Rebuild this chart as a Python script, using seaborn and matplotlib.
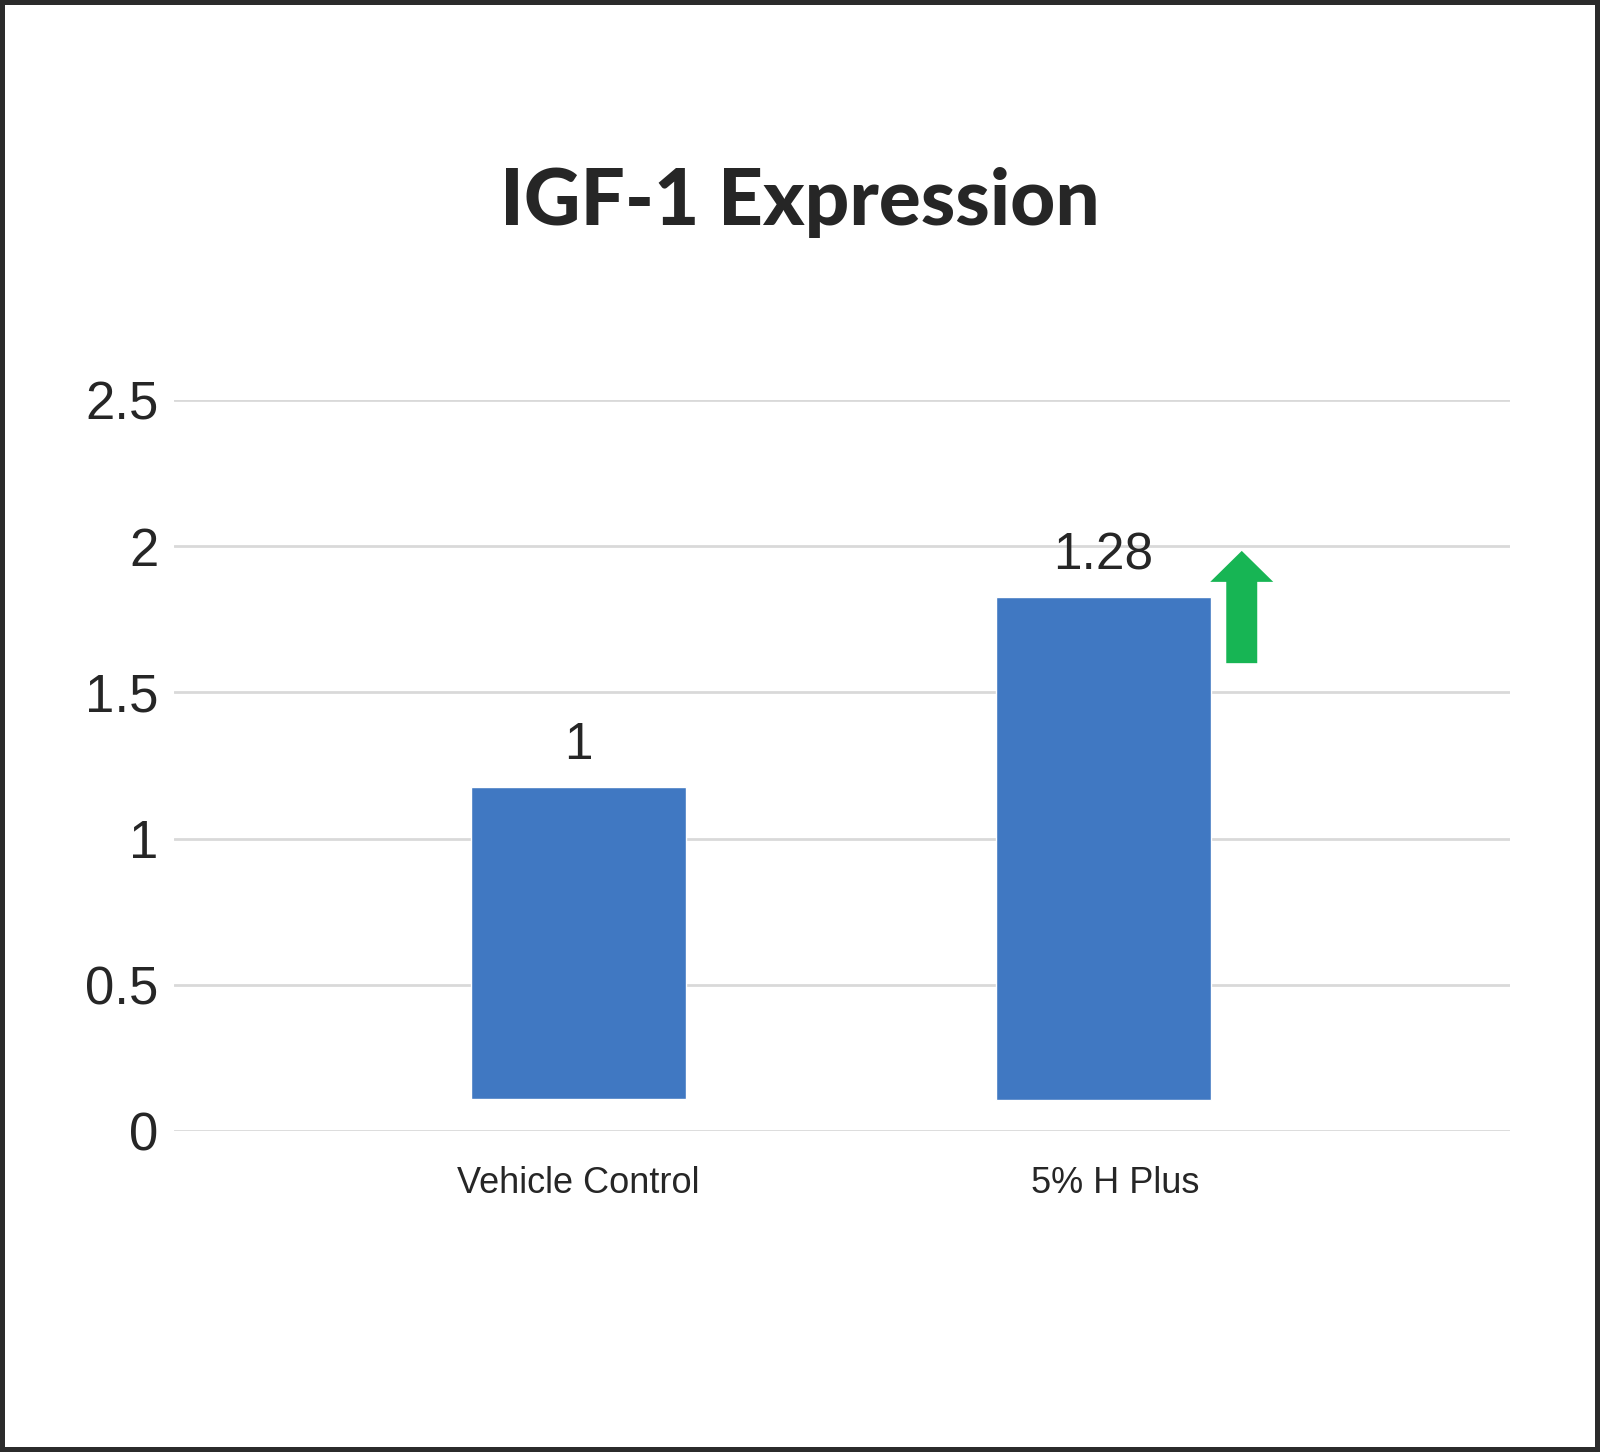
import matplotlib
matplotlib.use("Agg")
import matplotlib.pyplot as plt
import matplotlib.patches as mpatches
from matplotlib.transforms import ScaledTranslation
import seaborn as sns
import pandas as pd

# values
groups = ["Vehicle Control", "5% H Plus"]
expression = [1, 1.28]          # printed value labels
bar_bottom = [0.11, 0.105]      # bars float above zero in the original
bar_top = [1.176, 1.826]
y_ticks = [0, 0.5, 1, 1.5, 2, 2.5]

df = pd.DataFrame({
    "group": groups,
    "bottom": bar_bottom,
    "height": [t - b for t, b in zip(bar_top, bar_bottom)],
})

sns.set_style("white")
plt.rcParams["font.family"] = ["Liberation Sans", "DejaVu Sans"]

text_col = "#262626"
bar_col = "#4078c2"

fig = plt.figure(figsize=(16, 14.52), dpi=100,
                 linewidth=6, edgecolor="#2b2b2b")
ax = fig.add_axes([174 / 1600, 1 - 1131 / 1452, (1510 - 174) / 1600, (1131 - 400) / 1452])

sns.barplot(data=df, x="group", y="height", bottom=df["bottom"].tolist(),
            color=bar_col, saturation=1, width=0.41, ax=ax)

ax.set_ylim(0, 2.5)
ax.set_xlim(-0.77, 1.775)
ax.set_yticks(y_ticks)
ax.set_yticklabels([f"{v:g}" for v in y_ticks])
ax.yaxis.grid(True, color="#d9d9d9", linewidth=2)
ax.set_axisbelow(True)
for s in ax.spines.values():
    s.set_visible(False)
ax.tick_params(axis="y", length=0, pad=11, labelsize=38, labelcolor=text_col)
ax.tick_params(axis="x", length=0, pad=25, labelsize=26, labelcolor=text_col)
ax.set_xlabel("")
ax.set_ylabel("")

# second category label sits a little right of its bar in the original
lbl = ax.get_xticklabels()[1]
lbl.set_transform(lbl.get_transform() + ScaledTranslation(0.12, 0, fig.dpi_scale_trans))

# value labels on top of bars
ax.bar_label(ax.containers[0], labels=[f"{v:g}" for v in expression],
             padding=12, fontsize=37, color=text_col)

# green "increase" arrow next to the second bar
arrow_x = 1 + 0.264
arrow = mpatches.FancyArrow(arrow_x, bar_top[1] - 0.226, 0, 0.384,
                            width=0.059, head_width=0.12, head_length=0.106,
                            length_includes_head=True, color="#17b554", lw=0)
ax.add_patch(arrow)

title = fig.text(0.5, 1 - 225 / 1452, "IGF-1 Expression", ha="center", va="baseline",
                 fontsize=63, fontweight="black", color=text_col,
                 family=["Lato", "DejaVu Sans"])

# squeeze title to the reference width
fig.canvas.draw()
w = title.get_window_extent().width
if w > 600:
    title.set_fontsize(63 * 600 / w)

fig.savefig("out.png", dpi=100, edgecolor=fig.get_edgecolor())
